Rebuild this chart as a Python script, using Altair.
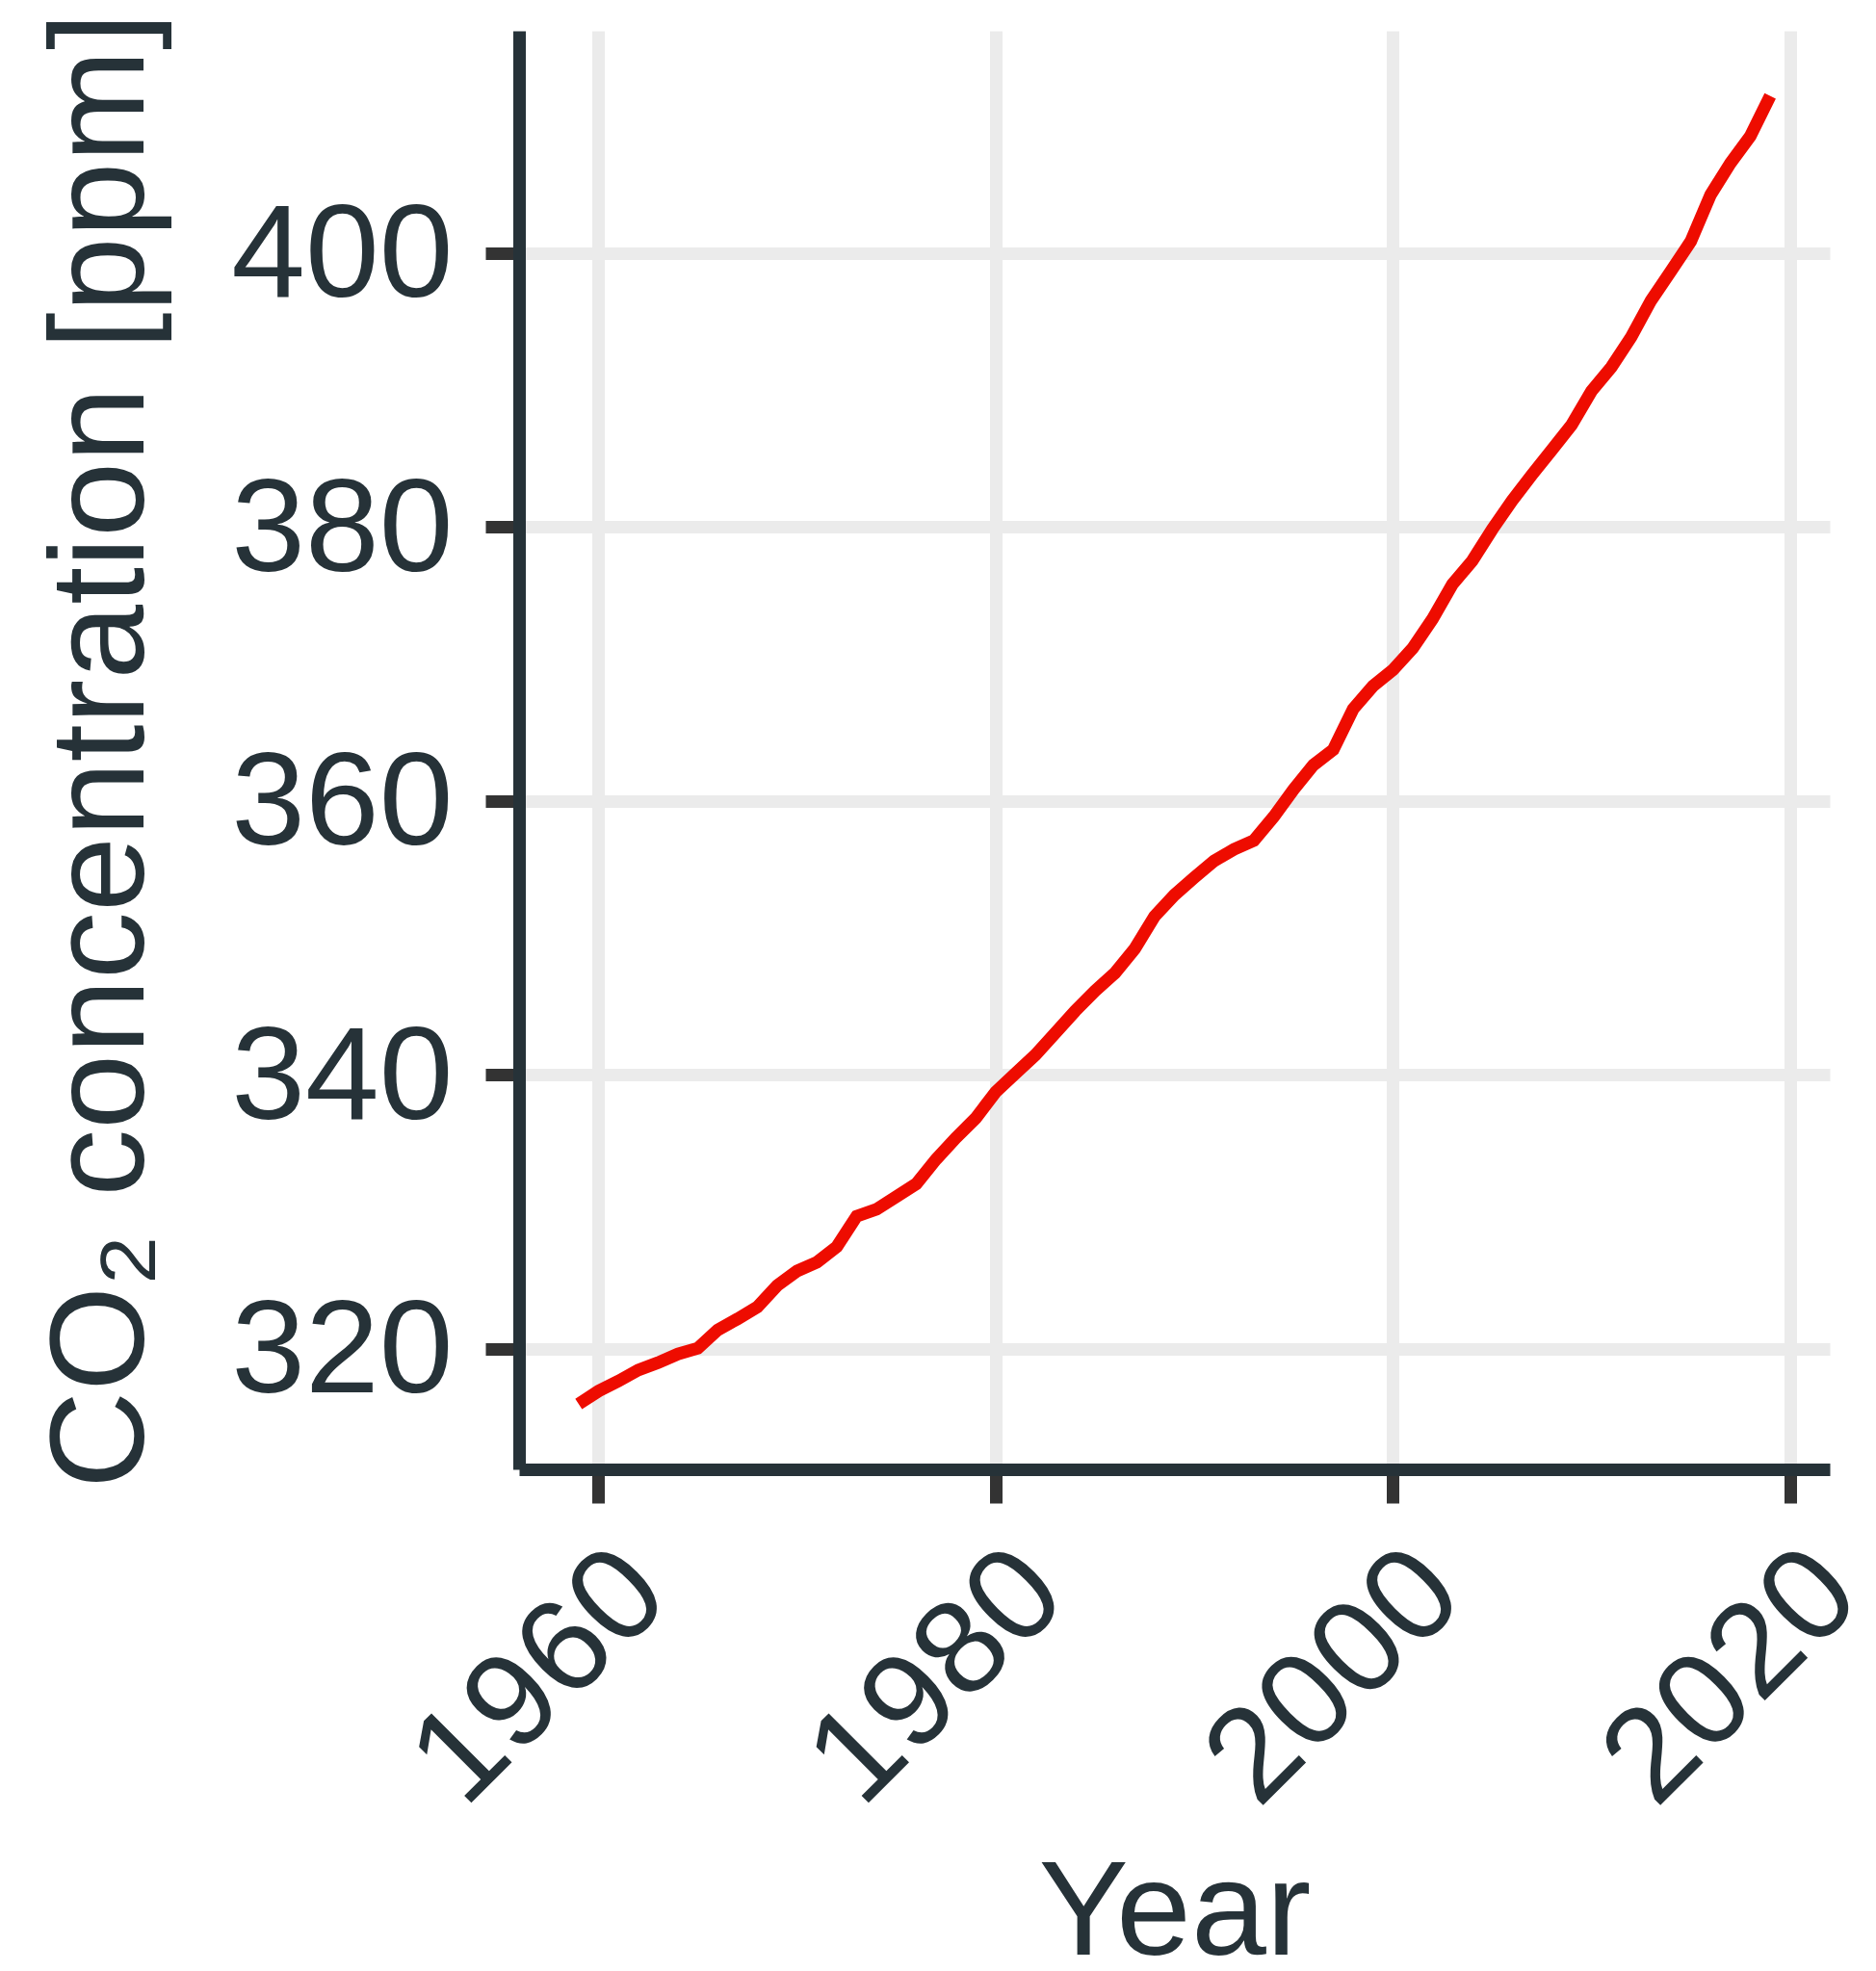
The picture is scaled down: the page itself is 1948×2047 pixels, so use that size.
import altair as alt
import pandas as pd

years = list(range(1959, 2020))
co2_ppm = [
    315.97, 316.91, 317.64, 318.45, 318.99, 319.62, 320.04, 321.37, 322.18, 323.05,
    324.62, 325.68, 326.32, 327.45, 329.68, 330.18, 331.11, 332.04, 333.83, 335.40,
    336.84, 338.75, 340.11, 341.45, 343.05, 344.65, 346.12, 347.42, 349.19, 351.57,
    353.12, 354.39, 355.61, 356.45, 357.10, 358.83, 360.82, 362.61, 363.73, 366.70,
    368.38, 369.55, 371.14, 373.28, 375.80, 377.52, 379.80, 381.90, 383.79, 385.60,
    387.43, 389.90, 391.65, 393.85, 396.52, 398.65, 400.83, 404.24, 406.55, 408.52,
    411.44,
]
x_ticks = [1960, 1980, 2000, 2020]
y_ticks = [320, 340, 360, 380, 400]

df = pd.DataFrame({"year": years, "co2": co2_ppm})

TEXT = "#263238"
FONT = "Liberation Sans"
W, H = 1361, 1494

common_axis = dict(
    labelFont=FONT,
    labelFontSize=138,
    labelColor=TEXT,
    labelLimit=0,
    titleFont=FONT,
    titleFontSize=140,
    titleFontWeight="normal",
    titleColor=TEXT,
    titleLimit=0,
    domainColor=TEXT,
    domainWidth=13,
    tickColor="#333333",
    tickWidth=13,
    tickSize=35,
    gridColor="#EBEBEB",
    gridWidth=13,
)

chart = (
    alt.Chart(df)
    .mark_line(color="#EE0C00", strokeWidth=13, strokeCap="butt")
    .encode(
        x=alt.X(
            "year:Q",
            scale=alt.Scale(domain=[1956, 2022], nice=False, zero=False),
            axis=alt.Axis(
                values=x_ticks,
                format="d",
                title="Year",
                labelAngle=315,
                labelAlign="right",
                labelBaseline="top",
                labelPadding=24,
                labelOverlap=False,
                titleX=W / 2,
                titleY=503,
                titleAlign="center",
                titleBaseline="alphabetic",
                **common_axis,
            ),
        ),
        y=alt.Y(
            "co2:Q",
            scale=alt.Scale(domain=[311.2, 416.2], nice=False, zero=False),
            axis=alt.Axis(
                values=y_ticks,
                title="CO₂ concentration [ppm]",
                labelPadding=34,
                labelOffset=4,
                labelAlign="right",
                labelBaseline="middle",
                titleAngle=270,
                titleX=-391,
                titleY=H / 2,
                titleAlign="center",
                titleBaseline="alphabetic",
                **common_axis,
            ),
        ),
    )
    .properties(
        width=W,
        height=H,
        autosize=alt.AutoSizeParams(type="none"),
        padding={"left": 531, "top": 24, "right": 40, "bottom": 512},
        background="white",
    )
    .configure_view(strokeWidth=0)
)

chart.save("out.html", embed_options={"renderer": "svg", "actions": False})
